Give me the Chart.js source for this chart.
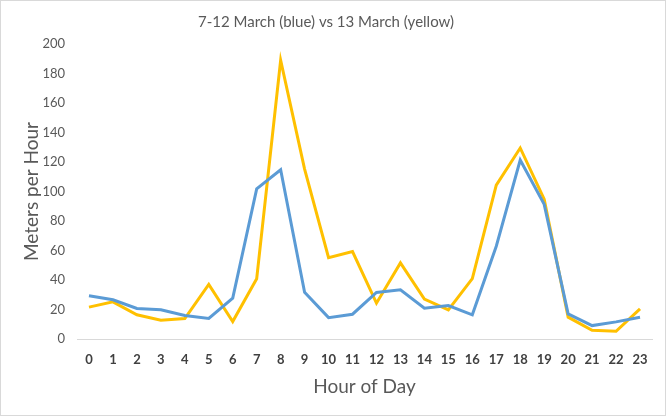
<!DOCTYPE html>
<html>
<head>
<meta charset="utf-8">
<script src="https://cdn.jsdelivr.net/npm/chart.js@4.4.1/dist/chart.umd.min.js"></script>
<style>
html,body{margin:0;padding:0;background:#fff;}
#wrap{width:666px;height:416px;position:relative;}
</style>
</head>
<body>
<div id="wrap"><canvas id="c" width="666" height="416"></canvas></div>
<script>
const hours = ["0","1","2","3","4","5","6","7","8","9","10","11","12","13","14","15","16","17","18","19","20","21","22","23"];
const blueWeek = [29.3,26.6,20.7,19.8,15.9,13.9,27.7,101.8,114.7,31.6,14.5,16.8,31.6,33.4,20.9,22.7,16.4,62.9,121.3,91.3,17.0,9.1,11.6,14.8];
const yellowDay = [21.6,25.2,16.4,12.7,13.9,37.0,11.8,40.9,189.0,115.2,55.2,59.3,24.3,51.6,27.1,19.8,40.9,104.3,129.5,94.8,14.8,5.9,5.2,20.4];
const yTicks = [0,20,40,60,80,100,120,140,160,180,200];

const FONT = "Lato, 'Open Sans', sans-serif";

const bgPlugin = {
  id: 'bg',
  beforeDraw(chart) {
    const ctx = chart.ctx;
    ctx.save();
    ctx.fillStyle = '#fff';
    ctx.fillRect(0, 0, chart.width, chart.height);
    ctx.strokeStyle = '#d9d9d9';
    ctx.lineWidth = 1;
    ctx.strokeRect(0.5, 0.5, chart.width - 1, chart.height - 1);
    ctx.restore();
  }
};

new Chart(document.getElementById('c'), {
  type: 'line',
  data: {
    labels: hours,
    datasets: [
      { label: '7-12 March', data: blueWeek, borderColor: '#5B9BD5', backgroundColor: '#5B9BD5', borderWidth: 3, pointRadius: 0, tension: 0, fill: false },
      { label: '13 March', data: yellowDay, borderColor: '#FFC000', backgroundColor: '#FFC000', borderWidth: 3, pointRadius: 0, tension: 0, fill: false }
    ]
  },
  plugins: [bgPlugin],
  options: {
    responsive: false,
    animation: false,
    devicePixelRatio: 1,
    layout: { padding: { left: 0, right: 14, top: 0, bottom: 0 } },
    plugins: {
      legend: { display: false },
      tooltip: { enabled: false },
      title: {
        display: true,
        text: '7-12 March (blue) vs 13 March (yellow)',
        color: '#595959',
        font: { family: FONT, size: 15, weight: 'normal' },
        padding: { top: 13, bottom: 13 }
      }
    },
    scales: {
      x: {
        offset: true,
        grid: { display: false, drawTicks: false },
        border: { display: true, color: '#d9d9d9', width: 1 },
        ticks: { color: '#404040', font: { family: FONT, size: 13, weight: 'bold' }, padding: 13, maxRotation: 0, autoSkip: false },
        title: { display: true, text: 'Hour of Day', color: '#595959', font: { family: FONT, size: 19, weight: 'normal' }, padding: { top: 4, bottom: 18 } },
        afterFit(s) { s.height = 77; }
      },
      y: {
        min: 0, max: 200,
        afterBuildTicks(s) { s.ticks = yTicks.map(v => ({ value: v })); },
        grid: { display: false, drawTicks: false },
        border: { display: false },
        ticks: { color: '#595959', font: { family: FONT, size: 13 }, padding: 12 },
        title: { display: true, text: 'Meters per Hour', color: '#595959', font: { family: FONT, size: 19, weight: 'normal' }, padding: { top: 20, bottom: 0 } },
        afterFit(s) { s.width = 77; }
      }
    }
  }
});
</script>
</body>
</html>
